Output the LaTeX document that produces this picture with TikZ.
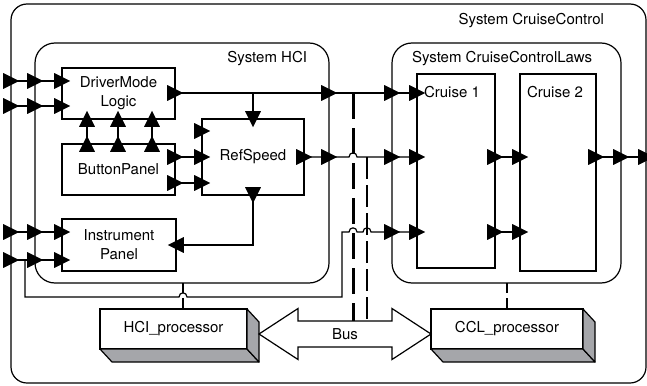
\documentclass[tikz,border=0pt]{standalone}
\usepackage{fontspec}
\setmainfont{TeX Gyre Heros}
\usetikzlibrary{calc}
\definecolor{facegray}{RGB}{165,166,170}
\tikzset{
  every node/.style={font=\fontsize{15}{19}\selectfont},
  box/.style={draw, line width=1.2pt, inner sep=0pt, outer sep=0pt, anchor=north west, align=center},
  sysbox/.style={box, rounded corners=20pt},
  wire/.style={line width=1.2pt},
  busdash/.style={line width=3pt, dash pattern=on 26pt off 9pt},
  busdashthin/.style={line width=1.8pt, dash pattern=on 22pt off 6pt},
  procdash/.style={line width=2.6pt, dash pattern=on 10pt off 5pt},
  lbl/.style={inner sep=0pt, outer sep=0pt},
  procface/.style={fill=facegray, draw, line width=1.2pt, line join=round},
  tri/.style={fill=black, draw=black, line width=0.6pt, line join=miter},
  portR/.pic={\path[tri] (-7.5,-7.5) -- (7.5,0) -- (-7.5,7.5) -- cycle;},
  portL/.pic={\path[tri] (7.5,-7.5) -- (-7.5,0) -- (7.5,7.5) -- cycle;},
  portD/.pic={\path[tri] (-7.5,-7.5) -- (7.5,-7.5) -- (0,7.5) -- cycle;},
  portU/.pic={\path[tri] (-7.5,7.5) -- (7.5,7.5) -- (0,-7.5) -- cycle;},
}
\begin{document}
\begin{tikzpicture}[x=1pt,y=-1pt]
\useasboundingbox (0,0) rectangle (647,385);
% levels and columns
\coordinate (y1) at (0,81);
\coordinate (y2) at (0,106);
\coordinate (yo) at (0,93);
\coordinate (yin) at (0,131);
\coordinate (ym) at (0,157);
\coordinate (yb) at (0,183);
\coordinate (yip) at (0,245);
\coordinate (y3) at (0,232);
\coordinate (y4) at (0,260);
\coordinate (yr) at (0,297);
\coordinate (xa) at (87,0);
\coordinate (xb) at (118,0);
\coordinate (xc) at (152,0);
\coordinate (xr) at (253,0);
\coordinate (xv) at (25,0);
\coordinate (xu) at (342,0);
\coordinate (xd1) at (353,0);
\coordinate (xd2) at (367,0);
\coordinate (xh) at (183,0);
\coordinate (xk) at (507,0);

% systems
\node[sysbox, rounded corners=16pt, minimum width=635pt, minimum height=379pt] (outer) at (11,4) {};
\node[sysbox, minimum width=294pt, minimum height=240pt] (hci) at (35,43) {};
\node[sysbox, minimum width=229pt, minimum height=240pt] (ccl) at (392,43) {};
\node[lbl, anchor=base east] (tcc) at (604,25) {System CruiseControl};
\node[lbl, anchor=base east] (thci) at (307,63) {System HCI};
\node[lbl, anchor=base west] (tccl) at (412,63) {System CruiseControlLaws};

% blocks
\node[box, minimum width=113pt, minimum height=51pt] (dml) at (62,68) {DriverMode\\Logic};
\node[box, minimum width=113pt, minimum height=51pt] (bp) at (62,144) {ButtonPanel};
\node[box, minimum width=102pt, minimum height=76pt] (rs) at (202,119) {RefSpeed};
\node[box, minimum width=114pt, minimum height=52pt] (ip) at (62,219) {Instrument\\Panel};
\node[box, minimum width=78pt, minimum height=194pt] (c1) at (417,74) {};
\node[box, minimum width=76pt, minimum height=197pt] (c2) at (520,74) {};
\node[lbl, anchor=base west] (tc1) at (424,98) {Cruise 1};
\node[lbl, anchor=base west] (tc2) at (527,98) {Cruise 2};

% processors
\node[box, fill=white, minimum width=147pt, minimum height=40pt] (hcip) at (100,309) {HCI\_processor};
\node[box, fill=white, minimum width=152pt, minimum height=40pt] (cclp) at (431,309) {CCL\_processor};
\draw[procface] (hcip.south west) -- (hcip.south east) -- ($(hcip.south east)+(12,13)$) -- ($(hcip.south west)+(12,13)$) -- cycle;
\draw[procface] (hcip.north east) -- ($(hcip.north east)+(12,13)$) -- ($(hcip.south east)+(12,13)$) -- (hcip.south east) -- cycle;
\draw[procface] (cclp.south west) -- (cclp.south east) -- ($(cclp.south east)+(12,13)$) -- ($(cclp.south west)+(12,13)$) -- cycle;
\draw[procface] (cclp.north east) -- ($(cclp.north east)+(12,13)$) -- ($(cclp.south east)+(12,13)$) -- (cclp.south east) -- cycle;

% bus
\coordinate (busL) at ($(hcip.east)+(12,5)$);
\coordinate (busR) at (cclp.west |- busL);
\coordinate (bustop) at ($(busL)+(0,-13)$);
\draw[wire, fill=white, line join=miter] (busL) -- ($(busL)+(39,-25.5)$) -- ($(busL)+(39,-13)$) -- ($(busR)+(-39,-13)$) -- ($(busR)+(-39,-25.5)$) -- (busR) -- ($(busR)+(-39,25.5)$) -- ($(busR)+(-39,13)$) -- ($(busL)+(39,13)$) -- ($(busL)+(39,25.5)$) -- cycle;
\node[lbl] (bus) at ($(busL)!0.5!(busR)$) {Bus};

% deployment dashes
\draw[busdash] (xd1 |- yo) -- (xd1 |- bustop);
\draw[busdashthin] (xd2 |- ym) -- (xd2 |- bustop);
\draw[procdash] (xh |- hci.south) -- (xh |- hcip.north);
\draw[procdash] (xk |- ccl.south) -- (xk |- cclp.north);

% inputs from outside
\draw[wire] (outer.west |- y1) -- (dml.west |- y1);
\draw[wire] (outer.west |- y2) -- (dml.west |- y2);
\draw[wire] (outer.west |- y3) -- (ip.west |- y3);
\draw[wire] (outer.west |- y4) -- (ip.west |- y4);
\foreach \yy in {y1,y2}{
  \pic at (outer.west |- \yy) {portR};
  \pic at (hci.west |- \yy) {portR};
  \pic at (dml.west |- \yy) {portR};
}
\foreach \yy in {y3,y4}{
  \pic at (outer.west |- \yy) {portR};
  \pic at (hci.west |- \yy) {portR};
  \pic at (ip.west |- \yy) {portR};
}

% DriverMode output
\draw[wire] (dml.east |- yo) -- (c1.west |- yo);
\draw[wire] (xr |- yo) -- (xr |- rs.north);
\pic at (dml.east |- yo) {portR};
\pic at (hci.east |- yo) {portR};
\pic at (ccl.west |- yo) {portR};
\pic at (c1.west |- yo) {portR};
\pic at (xr |- rs.north) {portD};

% ButtonPanel to DriverMode
\foreach \xx in {xa,xb,xc}{
  \draw[wire] (\xx |- bp.north) -- (\xx |- dml.south);
  \pic at (\xx |- bp.north) {portU};
  \pic at (\xx |- dml.south) {portU};
}

% ButtonPanel to RefSpeed
\draw[wire] (bp.east |- ym) -- (rs.west |- ym);
\draw[wire] (bp.east |- yb) -- (rs.west |- yb);
\pic at (bp.east |- ym) {portR};
\pic at (rs.west |- ym) {portR};
\pic at (bp.east |- yb) {portR};
\pic at (rs.west |- yb) {portR};
\pic at (rs.west |- yin) {portR};

% RefSpeed output to Cruise 1
\draw[wire] (rs.east |- ym) -- ($(xd1 |- ym)+(-4,0)$) .. controls +(0,-5.5) and +(0,-5.5) .. ($(xd1 |- ym)+(4,0)$) -- (c1.west |- ym);
\pic at (rs.east |- ym) {portR};
\pic at (hci.east |- ym) {portR};
\pic at (ccl.west |- ym) {portR};
\pic at (c1.west |- ym) {portR};

% RefSpeed to InstrumentPanel
\draw[wire] (xr |- rs.south) -- (xr |- yip) -- (ip.east |- yip);
\pic at (xr |- rs.south) {portD};
\pic at (ip.east |- yip) {portL};

% outside input routed to Cruise 1
\draw[wire] (xv |- y4) -- (xv |- yr) -- ($(xh |- yr)+(-4,0)$) .. controls +(0,-5.5) and +(0,-5.5) .. ($(xh |- yr)+(4,0)$) -- (xu |- yr) -- (xu |- y3) -- ($(xd1 |- y3)+(-4,0)$) .. controls +(0,-5.5) and +(0,-5.5) .. ($(xd1 |- y3)+(4,0)$) -- ($(xd2 |- y3)+(-4,0)$) .. controls +(0,-5.5) and +(0,-5.5) .. ($(xd2 |- y3)+(4,0)$) -- (c1.west |- y3);
\pic at (ccl.west |- y3) {portR};
\pic at (c1.west |- y3) {portR};

% Cruise 1 to Cruise 2 and out
\draw[wire] (c1.east |- ym) -- (c2.west |- ym);
\draw[wire] (c1.east |- y3) -- (c2.west |- y3);
\draw[wire] (c2.east |- ym) -- (outer.east |- ym);
\pic at (c1.east |- ym) {portR};
\pic at (c2.west |- ym) {portR};
\pic at (c1.east |- y3) {portR};
\pic at (c2.west |- y3) {portR};
\pic at (c2.east |- ym) {portR};
\pic at (ccl.east |- ym) {portR};
\pic at (outer.east |- ym) {portR};
\end{tikzpicture}
\end{document}
